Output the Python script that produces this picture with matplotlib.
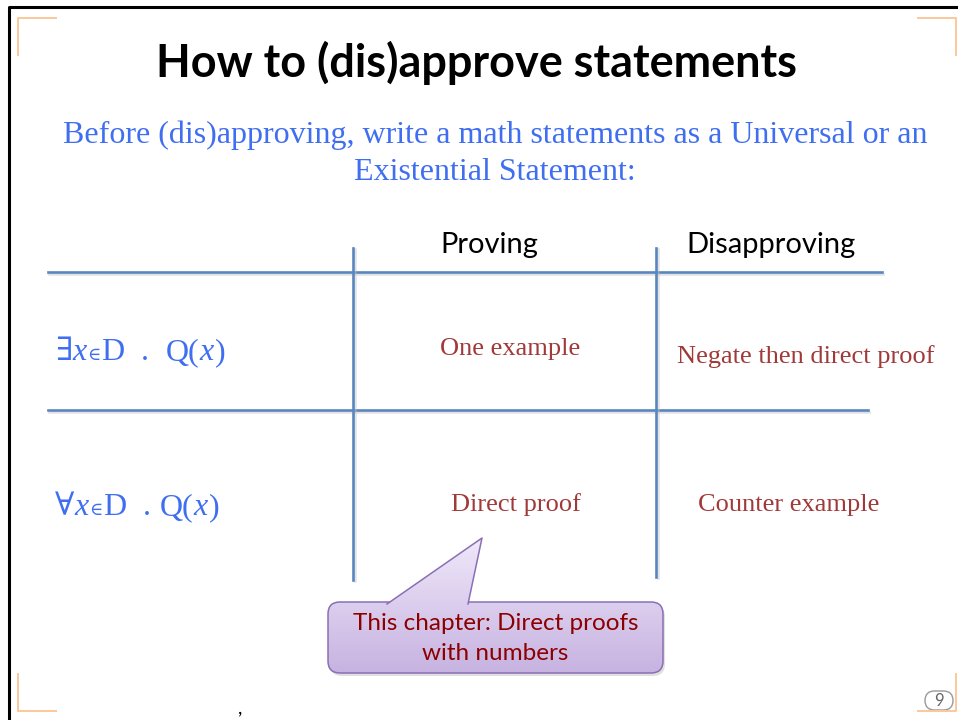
import matplotlib
matplotlib.use('Agg')
import matplotlib.pyplot as plt
import numpy as np
from matplotlib.patches import FancyBboxPatch, Polygon

# slide content
title = 'How to (dis)approve statements'
subtitle = ['Before (dis)approving, write a math statements as a Universal or an',
            'Existential Statement:']
col_headers = ['Proving', 'Disapproving']
row_labels = [
    [('∃', 'n'), ('x', 'i'), ('∈', 's'), ('D', 'n'), ('  .  ', 'n'), ('Q(', 'n'), ('x', 'i'), (')', 'n')],
    [('∀', 'n'), ('x', 'i'), ('∈', 's'), ('D', 'n'), ('  . ', 'n'), ('Q(', 'n'), ('x', 'i'), (')', 'n')],
]
cells = [['One example', 'Negate then direct proof'],
         ['Direct proof', 'Counter example']]
callout_text = 'This chapter: Direct proofs\nwith numbers'
page_no = '9'

SANS = ['Lato', 'DejaVu Sans']
SERIF = ['Liberation Serif', 'DejaVu Serif']
BLUE = '#3f6ef0'
RED = '#a03a3a'
LINE = '#5a86c0'

fig = plt.figure(figsize=(9.58, 7.2), dpi=100)
ax = fig.add_axes([0, 0, 1, 1])
ax.set_xlim(0, 958)
ax.set_ylim(720, 0)
ax.axis('off')

# black frame (left + top)
ax.plot([9, 9, 958], [720, 7, 7], color='black', lw=2.2, solid_capstyle='butt')

# orange corner brackets
oc = '#fcc89a'
for xs, ys in [([18, 18, 56], [55, 18, 18]), ([918, 956, 956], [18, 18, 55]),
               ([18, 18, 56], [674, 711, 711]), ([918, 956, 956], [711, 711, 674])]:
    ax.plot(xs, ys, color=oc, lw=1.4)

# title and subtitle
ax.text(477, 63, title, ha='center', va='center', fontsize=32.4, fontweight='bold',
        family=SANS, color='black')
ax.text(495, 135, subtitle[0], ha='center', va='center', fontsize=23, family=SERIF, color=BLUE)
ax.text(495, 172, subtitle[1], ha='center', va='center', fontsize=23, family=SERIF, color=BLUE)

# table grid lines with soft shadow
hlines = [(272, 48, 882), (410, 48, 868)]
vlines = [(353, 248, 580), (656, 248, 577)]
for y, x0, x1 in hlines:
    ax.plot([x0 + 1, x1 + 1], [y + 2, y + 2], color='#c0c0c0', lw=1.8, alpha=0.45)
    ax.plot([x0, x1], [y, y], color=LINE, lw=1.9)
for x, y0, y1 in vlines:
    ax.plot([x + 2, x + 2], [y0 + 1, y1 + 1], color='#c0c0c0', lw=1.8, alpha=0.45)
    ax.plot([x, x], [y0, y1], color=LINE, lw=1.9)

# column headers
ax.text(489, 245, col_headers[0], ha='center', va='center', fontsize=21, family=SANS)
ax.text(771, 245, col_headers[1], ha='center', va='center', fontsize=21, family=SANS)

# row labels built piece by piece
fig.canvas.draw()
rend = fig.canvas.get_renderer()
inv = ax.transData.inverted()
for pieces, y in zip(row_labels, [350, 505]):
    x = 55
    for txt, st in pieces:
        kw = dict(fontsize=23, family=SERIF, color=BLUE, va='baseline')
        if st == 'i':
            kw['style'] = 'italic'
        if st == 's':
            kw['fontsize'] = 13
        t = ax.text(x, y + 10, txt, **kw)
        bb = t.get_window_extent(rend)
        x0 = inv.transform((bb.x0, bb.y0))[0]
        x1 = inv.transform((bb.x1, bb.y0))[0]
        x += (x1 - x0) + 0.5

# cell texts
cell_pos = [[(510, 349), (806, 357)], [(516, 505), (789, 505)]]
for r in range(2):
    for c in range(2):
        ax.text(cell_pos[r][c][0], cell_pos[r][c][1], cells[r][c], ha='center', va='center',
                fontsize=19, family=SERIF, color=RED)

# callout with gradient fill
bx0, by0, bx1, by1 = 328, 602, 663, 673
tail = np.array([[387, 604], [482, 538], [468, 604]])
edge = '#8b6fb3'
shadow = FancyBboxPatch((bx0 + 2, by0 + 3), bx1 - bx0, by1 - by0,
                        boxstyle='round,pad=0,rounding_size=12',
                        fc='#999999', ec='none', alpha=0.3, zorder=2)
ax.add_patch(shadow)
box = FancyBboxPatch((bx0, by0), bx1 - bx0, by1 - by0,
                     boxstyle='round,pad=0,rounding_size=12',
                     fc='none', ec=edge, lw=1.1, zorder=4)
ax.add_patch(box)
grad = np.linspace(0, 1, 256).reshape(-1, 1)
c_top = np.array([0.94, 0.91, 0.98])
c_bot = np.array([0.78, 0.70, 0.88])
img = c_top + (c_bot - c_top) * grad[:, :, None] * np.ones((1, 1, 3))
im = ax.imshow(img, extent=(bx0, bx1, by1, 538), aspect='auto', zorder=3)
boxclip = FancyBboxPatch((bx0, by0), bx1 - bx0, by1 - by0,
                         boxstyle='round,pad=0,rounding_size=12',
                         fc='none', ec='none', transform=ax.transData)
ax.add_patch(boxclip)
im.set_clip_path(boxclip)
im2 = ax.imshow(img, extent=(bx0, bx1, by1, 538), aspect='auto', zorder=5)
tailclip = Polygon(tail, closed=True, fc='none', ec='none', transform=ax.transData)
ax.add_patch(tailclip)
im2.set_clip_path(tailclip)
ax.plot(tail[:, 0], tail[:, 1], color=edge, lw=1.1, zorder=6)
ax.set_xlim(0, 958)
ax.set_ylim(720, 0)
ax.text((bx0 + bx1) / 2, (by0 + by1) / 2 + 1, callout_text, ha='center', va='center',
        fontsize=17.5, family=SANS, color='#8b0000', linespacing=1.55, zorder=7)

# page number pill
pill = FancyBboxPatch((925, 691), 28, 19, boxstyle='round,pad=0,rounding_size=9.5',
                      fc='white', ec='#999999', lw=1)
ax.add_patch(pill)
ax.text(939, 701, page_no, ha='center', va='center', fontsize=12, family=SANS, color='#666666')

# stray comma at the bottom
ax.text(240, 708, ',', ha='center', va='center', fontsize=14, family=SANS)

fig.savefig('out.png', dpi=100)
